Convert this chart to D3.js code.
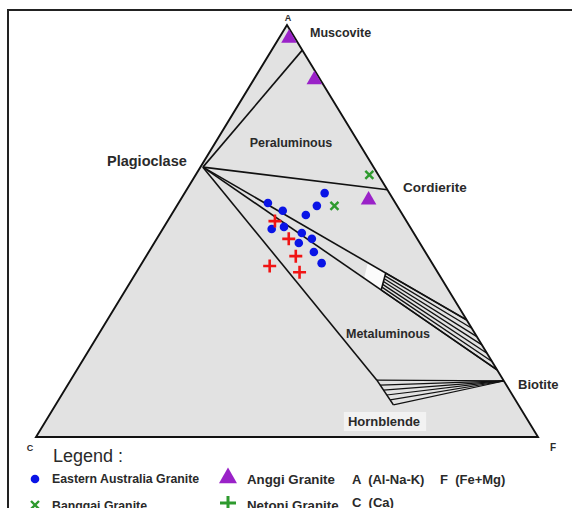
<!DOCTYPE html>
<html>
<head>
<meta charset="utf-8">
<script src="https://cdn.jsdelivr.net/npm/d3@7"></script>
<style>
body{margin:0;background:#fff;}
svg{display:block;font-family:"Liberation Sans",Arial,sans-serif;}
text{white-space:pre;}
</style>
</head>
<body>
<svg id="svg1" width="572" height="508"></svg>
<script>
// ternary compositions as [A (Al-Na-K), C (Ca), F (Fe+Mg)] in %
const easternAustralia = [[59.2,12.9,27.9],[56.1,16.0,27.9],[53.9,19.3,26.8],[56.8,25.4,17.8],[54.9,23.4,21.7],
  [50.5,27.8,21.7],[51.0,25.1,23.9],[49.5,22.3,28.2],[48.1,21.0,30.9],[47.1,24.1,28.8],[44.9,22.2,32.9],[42.2,22.0,35.8]];
const netoni = [[52.4,26.2,21.4],[48.1,25.6,26.3],[43.9,26.3,29.8],[41.5,32.7,25.8],[40.0,27.5,32.5]];
const banggai = [[63.6,1.8,34.6],[56.1,12.5,31.4]];
const anggi = [[96.8,1.2,2.0],[86.7,1.2,12.1],[57.5,5.0,37.5]];

// mineral points / field corners
const plag = [65.5,34.0,0.5];
const musc = [93.9,0,6.1];
const cord = [60,0,40];
const upperEnd = [28.4,0,71.6];
const lowerEnd = [16.3,0,83.7];
const biot = [13.6,0,86.4];
const hbTop = [13.8,25.2,61.0];
const hbBot = [7.8,24.9,67.3];
const vertA = [100,0,0], vertC = [0,100,0], vertF = [0,0,100];

const svg = d3.select('#svg1');
const x = d3.scaleLinear().domain([0,1]).range([36,538]);
const y = d3.scaleLinear().domain([0,1]).range([437,25]);

function proj(p){
  const s = p[0]+p[1]+p[2];
  const a = p[0]/s, f = p[2]/s;
  return [x(f + a/2), y(a)];
}
function mix(p,q,t){ return p.map((v,i)=>v+(q[i]-v)*t); }
const line = d3.line();
const ink = '#111';

// frame
svg.append('path').attr('d','M8,508V10H572').attr('fill','none').attr('stroke','#222').attr('stroke-width',2);

// triangle
svg.append('path').attr('d', line([vertA,vertC,vertF].map(proj))+'Z')
  .attr('fill','#e2e2e2').attr('stroke','none');

// white strip at end of wedge
const stripU = 0.693, stripL = 0.606;
const strip = [mix(plag,upperEnd,0.625), mix(plag,upperEnd,stripU), mix(plag,lowerEnd,stripL), mix(plag,lowerEnd,0.548)];
svg.append('path').attr('d', line(strip.map(proj))+'Z').attr('fill','#fbfbfb');

// tie-line hatch between wedge lines
const hatchN = 7;
for(let i=0;i<hatchN;i++){
  const t=i/(hatchN-1);
  const s0 = mix(mix(plag,upperEnd,stripU), mix(plag,lowerEnd,stripL), t);
  const s1 = mix(upperEnd, lowerEnd, t);
  svg.append('path').attr('d', line([s0,s1].map(proj))).attr('stroke',ink).attr('stroke-width',1.3).attr('fill','none');
}
// hornblende-biotite fan
const fanN = 6;
for(let i=0;i<fanN;i++){
  const t=i/(fanN-1);
  svg.append('path').attr('d', line([mix(hbTop,hbBot,t), biot].map(proj))).attr('stroke',ink).attr('stroke-width',1.2).attr('fill','none');
}

// boundary lines
const bounds = [[plag,musc],[plag,cord],[plag,upperEnd],[plag,lowerEnd],[plag,hbTop],[hbTop,hbBot],
  [mix(plag,upperEnd,stripU), mix(plag,lowerEnd,stripL)]];
bounds.forEach(b=>{
  svg.append('path').attr('d', line(b.map(proj))).attr('stroke',ink).attr('stroke-width',1.6).attr('fill','none');
});
svg.append('path').attr('d', line([vertA,vertC,vertF].map(proj))+'Z')
  .attr('fill','none').attr('stroke',ink).attr('stroke-width',1.9).attr('stroke-linejoin','miter');

// labels
const txt = (tx,ty,s,size,anchor,weight)=>svg.append('text').attr('x',tx).attr('y',ty)
  .attr('text-anchor',anchor||'start').attr('font-size',size).attr('font-weight',weight||'bold')
  .attr('fill','#2a2a2a').text(s);
txt(288,21,'A',9,'middle');
txt(30,451,'C',9,'middle');
txt(553,451,'F',10,'middle');
txt(310,37,'Muscovite',12.5);
txt(291,147,'Peraluminous',12.5,'middle');
txt(107,166,'Plagioclase',14.5);
txt(403,192,'Cordierite',13.5);
txt(388,338,'Metaluminous',12.5,'middle');
txt(518,389,'Biotite',13);
const hb = txt(384,426,'Hornblende',13,'middle');
const bb = hb.node().getBBox();
svg.insert('rect','text:last-of-type').attr('x',bb.x-4).attr('y',bb.y-2).attr('width',bb.width+10).attr('height',bb.height+4).attr('fill','#f2f2f2');

// markers
const sym = (g, kind, px, py, big)=>{
  if(kind==='circle') g.append('circle').attr('cx',px).attr('cy',py).attr('r',4.3).attr('fill','#0a14e6');
  if(kind==='tri') g.append('path').attr('d',d3.symbol(d3.symbolTriangle, big?140:105)()).attr('transform',`translate(${px},${py})`).attr('fill','#9a22c8');
  if(kind==='x') g.append('path').attr('d','M-4,-4L4,4M-4,4L4,-4').attr('transform',`translate(${px},${py})`).attr('stroke','#2e9a2e').attr('stroke-width',2.4).attr('fill','none');
  if(kind==='plusR') g.append('path').attr('d','M-6.5,0H6.5M0,-6.5V6.5').attr('transform',`translate(${px},${py})`).attr('stroke','#f01414').attr('stroke-width',2.6).attr('fill','none');
  if(kind==='plusG') g.append('path').attr('d','M-8,0H8M0,-7V7').attr('transform',`translate(${px},${py})`).attr('stroke','#2e9a2e').attr('stroke-width',3).attr('fill','none');
};
const mk = svg.append('g');
anggi.forEach(d=>{const p=proj(d); sym(mk,'tri',p[0],p[1]);});
banggai.forEach(d=>{const p=proj(d); sym(mk,'x',p[0],p[1]);});
easternAustralia.forEach(d=>{const p=proj(d); sym(mk,'circle',p[0],p[1]);});
netoni.forEach(d=>{const p=proj(d); sym(mk,'plusR',p[0],p[1]);});

// legend
txt(53,462,'Legend :',18,'start','normal');
const lg = svg.append('g');
sym(lg,'circle',35,479);
txt(52,483,'Eastern Australia Granite',12.3);
sym(lg,'tri',228,478,true);
txt(247,484,'Anggi Granite',13.3);
txt(352,484,'A  (Al-Na-K)',13);
txt(440,484,'F  (Fe+Mg)',13);
sym(lg,'x',35,505);
txt(52,510,'Banggai Granite',12.3);
sym(lg,'plusG',228,503);
txt(247,510,'Netoni Granite',13.3);
txt(352,507,'C  (Ca)',13);
</script>
</body>
</html>
